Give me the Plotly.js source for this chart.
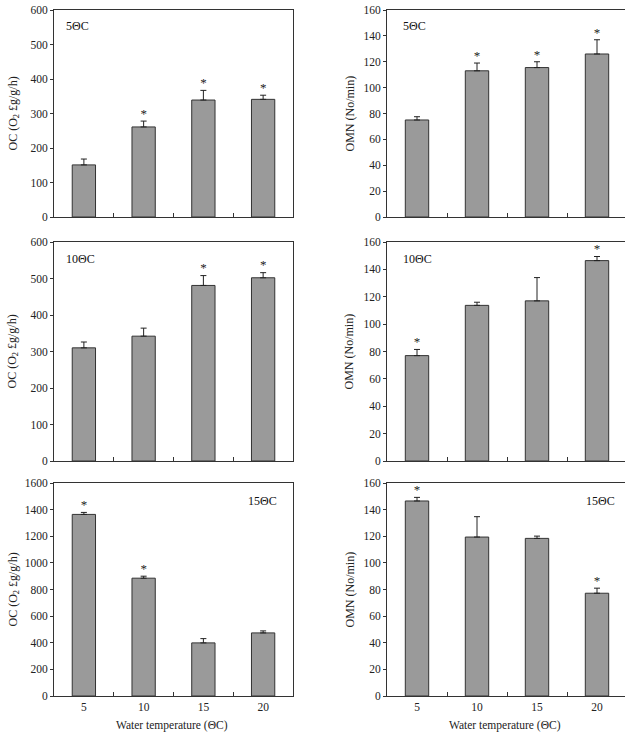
<!DOCTYPE html>
<html>
<head>
<meta charset="utf-8">
<script src="https://cdn.plot.ly/plotly-3.0.1.min.js"></script>
<style>
html,body{margin:0;padding:0;overflow:hidden;background:#fff;}
#chart{width:628px;height:736px;}
</style>
</head>
<body>
<div id="chart"></div>
<script>
// ---- data ----
const temps = ['5', '10', '15', '20'];
const oc5 = [151, 261, 339, 341];
const oc5Err = [17, 17, 28, 12];
const oc5Star = [0, 1, 1, 1];
const omn5 = [75, 113, 115.5, 126];
const omn5Err = [2.5, 6, 4.5, 11];
const omn5Star = [0, 1, 1, 1];
const oc10 = [310, 342, 481, 502];
const oc10Err = [16, 22, 27, 14];
const oc10Star = [0, 0, 1, 1];
const omn10 = [77, 113.7, 117, 146.4];
const omn10Err = [4.5, 2.3, 17, 3];
const omn10Star = [1, 0, 0, 1];
const oc15 = [1364, 885, 399, 474];
const oc15Err = [15, 15, 32, 15];
const oc15Star = [1, 1, 0, 0];
const omn15 = [146.5, 119.4, 118.4, 77.2];
const omn15Err = [2.7, 15.3, 1.7, 3.8];
const omn15Star = [1, 0, 0, 1];
const panelLabels = ['5ΘC', '5ΘC', '10ΘC', '10ΘC', '15ΘC', '15ΘC'];
const ocTitle = 'OC (O<sub>2</sub> £g/g/h)';
const omnTitle = 'OMN (No/min)';
const xTitle = 'Water temperature (ΘC)';

const W = 628, H = 736;
const FONT = 'Liberation Serif, Times New Roman, serif';
const TXT = '#222';

const panels = [
  {v: oc5, e: oc5Err, s: oc5Star, max: 600, dt: 100},
  {v: omn5, e: omn5Err, s: omn5Star, max: 160, dt: 20},
  {v: oc10, e: oc10Err, s: oc10Star, max: 600, dt: 100},
  {v: omn10, e: omn10Err, s: omn10Star, max: 160, dt: 20},
  {v: oc15, e: oc15Err, s: oc15Star, max: 1600, dt: 200},
  {v: omn15, e: omn15Err, s: omn15Star, max: 160, dt: 20}
];

// pixel layout
const colX = [[54, 293], [387, 627]];
const rowY = [[10, 217], [242, 461], [483, 696]];

const traces = [];
const layout = {
  width: W, height: H,
  margin: {l: 0, r: 0, t: 0, b: 0},
  paper_bgcolor: '#fff', plot_bgcolor: '#fff',
  showlegend: false,
  colorway: ['#222'],
  font: {family: FONT, size: 11, color: TXT},
  annotations: []
};

panels.forEach((p, i) => {
  const n = i + 1;
  const xa = n === 1 ? 'x' : 'x' + n;
  const ya = n === 1 ? 'y' : 'y' + n;
  const col = i % 2, row = Math.floor(i / 2);
  const xd = [colX[col][0] / W, colX[col][1] / W];
  const yd = [1 - rowY[row][1] / H, 1 - rowY[row][0] / H];
  traces.push({
    type: 'bar', x: temps, y: p.v, xaxis: xa, yaxis: ya,
    width: 0.39,
    marker: {color: '#9a9a9a', line: {color: '#333', width: 1}},
    error_y: {type: 'data', symmetric: false, array: p.e,
              arrayminus: p.e.map(() => 0), color: '#222', thickness: 1, width: 3},
    hoverinfo: 'skip'
  });
  const sx = [], sy = [];
  p.s.forEach((f, k) => { if (f) { sx.push(temps[k]); sy.push(p.v[k] + p.e[k]); } });
  traces.push({
    type: 'scatter', mode: 'text', x: sx, y: sy, xaxis: xa, yaxis: ya,
    text: sx.map(() => '*'), textposition: 'top center',
    marker: {color: TXT},
    textfont: {family: FONT, size: 13, color: TXT}, hoverinfo: 'skip', cliponaxis: false
  });
  const xk = n === 1 ? 'xaxis' : 'xaxis' + n;
  const yk = n === 1 ? 'yaxis' : 'yaxis' + n;
  layout[xk] = {
    domain: xd, anchor: ya, type: 'category',
    range: [-0.5, 3.5],
    showline: true, mirror: true, linecolor: '#333', linewidth: 1,
    ticks: 'inside', tickson: 'boundaries', ticklen: 4, tickcolor: '#333',
    showticklabels: row === 2, tickfont: {family: FONT, size: 11.5, color: TXT},
    showgrid: false, zeroline: false, fixedrange: true
  };
  layout[yk] = {
    domain: yd, anchor: xa,
    range: [0, p.max], dtick: p.dt, tick0: 0,
    showline: true, mirror: true, linecolor: '#333', linewidth: 1,
    ticks: 'outside', ticklen: 3, tickcolor: '#333',
    tickfont: {family: FONT, size: 11.5, color: TXT},
    showgrid: false, zeroline: false, fixedrange: true
  };
  // y titles
  layout.annotations.push({
    xref: 'paper', yref: 'paper',
    x: (col === 0 ? 13 : 349) / W, y: (yd[0] + yd[1]) / 2,
    text: col === 0 ? ocTitle : omnTitle, textangle: -90, showarrow: false,
    xanchor: 'center', yanchor: 'middle',
    font: {family: FONT, size: 12, color: TXT}
  });
  // panel label
  const labRight = row === 2;
  const lx = labRight ? (col === 0 ? 279 : 617) : (col === 0 ? 64 : 401);
  const ly = row === 0 ? 26 : (row === 1 ? 259 : 501);
  layout.annotations.push({
    xref: 'paper', yref: 'paper',
    x: lx / W, y: 1 - ly / H,
    text: panelLabels[i], showarrow: false,
    xanchor: labRight ? 'right' : 'left', yanchor: 'middle',
    font: {family: FONT, size: 12, color: '#111'}
  });
  if (row === 2) {
    layout.annotations.push({
      xref: 'paper', yref: 'paper',
      x: (col === 0 ? 172 : 505) / W, y: 1 - 725 / H,
      text: xTitle, showarrow: false, xanchor: 'center', yanchor: 'middle',
      font: {family: FONT, size: 11.5, color: TXT}
    });
  }
});

Plotly.newPlot('chart', traces, layout, {staticPlot: true, displayModeBar: false});
</script>
</body>
</html>
